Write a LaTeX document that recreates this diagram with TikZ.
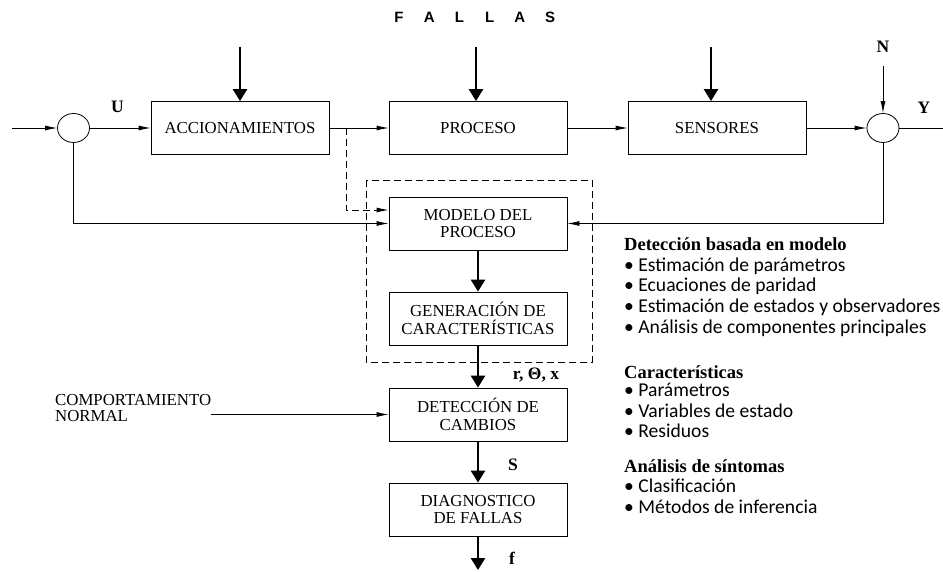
\documentclass[tikz,border=0pt]{standalone}
\usepackage{fontspec}
\setmainfont{Liberation Serif}
\newfontfamily\headfont{Liberation Sans}
\newfontfamily\listfont{Carlito}
\usetikzlibrary{arrows.meta,shapes.geometric}

\begin{document}
\begin{tikzpicture}[x=1pt,y=-1pt,
    block/.style={draw,line width=0.8pt,minimum width=178,minimum height=53,inner sep=0pt,
                  align=center,font=\fontsize{16.8}{17.5}\selectfont},
    sumnode/.style={draw,line width=0.8pt,ellipse,minimum width=32,minimum height=29,inner sep=0pt},
    arr/.style={line width=0.8pt,-{Latex[length=12pt,width=5pt]}},
    darr/.style={arr,dash pattern=on 7pt off 4pt},
    thickarr/.style={line width=2.6pt,-{Triangle[length=12pt,width=14pt]}},
    lbl/.style={font=\fontsize{17.5}{18}\selectfont\bfseries,inner sep=0pt},
    item/.style={anchor=base west,inner sep=0pt,font=\listfont\fontsize{19.6}{20}\selectfont},
    head/.style={anchor=base west,inner sep=0pt,font=\fontsize{18.5}{20}\selectfont\bfseries}]
  \useasboundingbox (0,0) rectangle (943,572);

  % Title
  \foreach \l [count=\i] in {F,A,L,L,A,S}
    \node[inner sep=0pt,font=\headfont\fontsize{15}{16}\selectfont\bfseries] (t\i) at ({399+30.2*(\i-1)},17) {\l};

  % Forward path
  \coordinate (in) at (12,128);
  \node[sumnode] (sum1) at (73.5,128) {};
  \node[block] (accion) at (240,128) {ACCIONAMIENTOS};
  \node[block] (proceso) at (478,128) {PROCESO};
  \node[block] (sensores) at (717,128) {SENSORES};
  \node[sumnode] (sum2) at (883,128) {};
  \coordinate (out) at (943,128);
  \draw[arr] (in) -- (sum1);
  \draw[arr] (sum1) -- (accion);
  \draw[arr] (accion) -- (proceso);
  \draw[arr] (proceso) -- (sensores);
  \draw[arr] (sensores) -- (sum2);
  \draw[line width=0.8pt] (sum2) -- (out);
  \node[lbl] (u) at (117.5,106.5) {U};
  \node[lbl] (y) at (924,108) {Y};
  \node[lbl] (n) at (883,47) {N};
  \coordinate (nin) at (883,66);
  \draw[arr] (nin) -- (sum2.north);

  % Faults
  \foreach \b/\x in {accion/240,proceso/476,sensores/711} {
    \coordinate (f\b) at (\x,47);
    \draw[thickarr] (f\b) -- (f\b |- \b.north);
  }

  % Diagnosis chain
  \node[block] (modelo) at (478,223.5) {MODELO DEL\\PROCESO};
  \node[block] (gen) at (478,318.5) {GENERACIÓN DE\\CARACTERÍSTICAS};
  \node[block] (det) at (478,414.5) {DETECCIÓN DE\\CAMBIOS};
  \node[block] (diag) at (478,509.5) {DIAGNOSTICO\\DE FALLAS};
  \coordinate (fout) at (478,570);
  \draw[thickarr] (modelo) -- (gen);
  \draw[thickarr] (gen) -- (det);
  \draw[thickarr] (det) -- (diag);
  \draw[thickarr] (diag) -- (fout);
  \draw[line width=0.8pt,dash pattern=on 7pt off 4pt] (366,180) rectangle (592,362);
  \node[lbl] (res) at (536,375) {r, \symbol{"0398}, x};
  \node[lbl] (s) at (513,465) {S};
  \node[lbl] (f) at (512,558) {f};

  % Feedback to the model
  \coordinate (tap) at (346,128);
  \draw[darr] (tap) |- ([yshift=13.5pt]modelo.west);
  \draw[arr] (sum1.south) |- (modelo.west);
  \draw[arr] (sum2.south) |- (modelo.east);

  % Normal behaviour
  \node[anchor=west,align=left,inner sep=0pt,font=\fontsize{16.8}{16}\selectfont] (comp) at (55,408.5)
    {COMPORTAMIENTO\\NORMAL};
  \draw[arr] (comp.east |- det.west) -- (det.west);

  % Methods
  \node[head] (h1) at (624,251) {Detección basada en modelo};
  \foreach \t [count=\i] in {Estimación de parámetros,Ecuaciones de paridad,
      Estimación de estados y observadores,Análisis de componentes principales}
    \node[item] (m\i) at (624,{251+20.5*\i}) {\textbullet\ \t};
  \node[head] (h2) at (624,378) {Características};
  \foreach \t [count=\i] in {Parámetros,Variables de estado,Residuos}
    \node[item] (c\i) at (624,{376+20.5*\i}) {\textbullet\ \t};
  \node[head] (h3) at (624,472) {Análisis de síntomas};
  \foreach \t [count=\i] in {Clasificación,Métodos de inferencia}
    \node[item] (a\i) at (624,{472+20.5*\i}) {\textbullet\ \t};
\end{tikzpicture}
\end{document}
